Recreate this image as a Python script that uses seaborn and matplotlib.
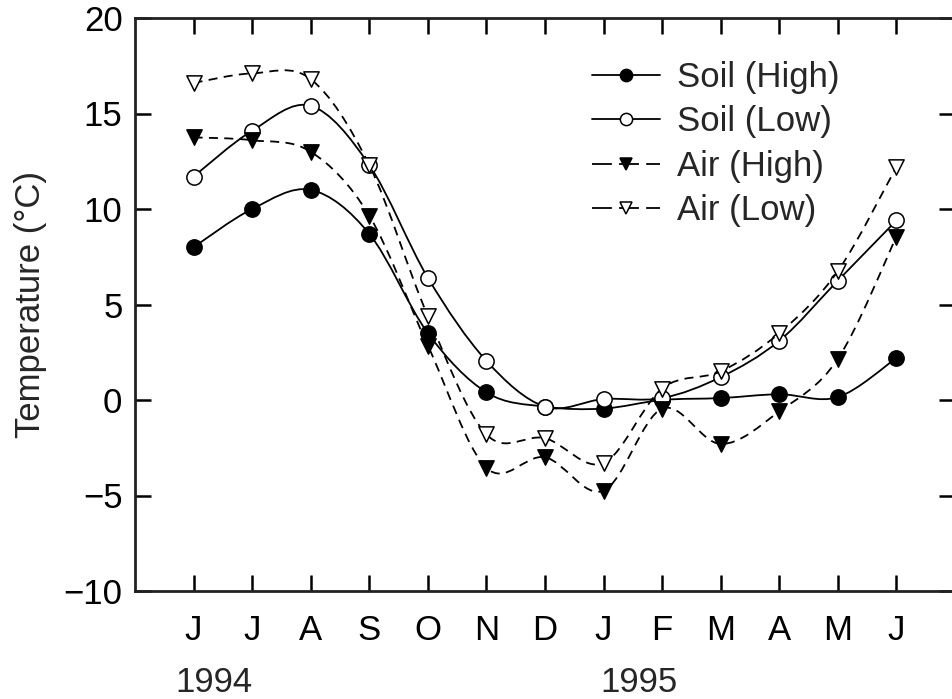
import numpy as np
import pandas as pd
import matplotlib
matplotlib.use("Agg")
import matplotlib.pyplot as plt
import matplotlib.transforms as mtransforms
from matplotlib.path import Path
from matplotlib.patches import PathPatch
from matplotlib.lines import Line2D
import seaborn as sns

# Monthly mean temperatures, June 1994 - June 1995
months = ["J", "J", "A", "S", "O", "N", "D", "J", "F", "M", "A", "M", "J"]
soil_high = [8.0, 10.0, 11.0, 8.7, 3.5, 0.4, -0.35, -0.45, 0.0, 0.1, 0.3, 0.15, 2.2]
soil_low = [11.7, 14.1, 15.4, 12.3, 6.4, 2.05, -0.35, 0.05, 0.1, 1.2, 3.1, 6.25, 9.4]
air_high = [13.75, 13.6, 13.0, 9.65, 2.85, -3.55, -3.0, -4.75, -0.45, -2.3, -0.6, 2.15, 8.55]
air_low = [16.6, 17.1, 16.8, 12.3, 4.4, -1.8, -2.0, -3.3, 0.6, 1.5, 3.5, 6.75, 12.2]
year_labels = ["1994", "1995"]
year_pos = [0.34, 7.61]

series = {
    "Soil (High)": soil_high,
    "Soil (Low)": soil_low,
    "Air (High)": air_high,
    "Air (Low)": air_low,
}
styles = {
    "Soil (High)": dict(marker="o", fill="black", ls="-", leg_ls="-"),
    "Soil (Low)": dict(marker="o", fill="white", ls="-", leg_ls="-"),
    "Air (High)": dict(marker="v", fill="black", ls=(0, (5, 3.5)), leg_ls=(0, (11, 4))),
    "Air (Low)": dict(marker="v", fill="white", ls=(0, (5, 3.5)), leg_ls=(0, (11, 4))),
}
MS = 11

x = np.arange(len(months))
df = pd.DataFrame({"month": np.tile(x, 4),
                   "temp": np.concatenate([series[k] for k in series]),
                   "series": np.repeat(list(series.keys()), len(months))})

FS = 25
sns.set_style("ticks")
plt.rcParams["font.family"] = ["Liberation Sans", "DejaVu Sans"]
plt.rcParams["font.size"] = FS

fig = plt.figure(figsize=(9.53, 6.99), dpi=100)
ax = fig.add_axes([135 / 953, 1 - 591 / 699, 820 / 953, 573 / 699])


def smooth_path(xs, ys):
    """Catmull-Rom curve through the points, expressed as cubic Bezier segments."""
    pts = np.column_stack([xs, ys]).astype(float)
    ext = np.vstack([pts[0], pts, pts[-1]])
    verts = [pts[0]]
    codes = [Path.MOVETO]
    for i in range(1, len(ext) - 2):
        p0, p1, p2, p3 = ext[i - 1], ext[i], ext[i + 1], ext[i + 2]
        c1 = p1 + (p2 - p0) / 6.0
        c2 = p2 - (p3 - p1) / 6.0
        verts += [c1, c2, p2]
        codes += [Path.CURVE4] * 3
    return Path(verts, codes)


handles = []
for z, (name, vals) in enumerate(series.items()):
    st = styles[name]
    patch = PathPatch(smooth_path(x, vals), fill=False, edgecolor="black",
                      lw=1.3, linestyle=st["ls"], zorder=2 + 2 * z)
    ax.add_patch(patch)
    sub = df[df["series"] == name]
    sns.scatterplot(data=sub, x="month", y="temp", marker=st["marker"],
                    s=MS ** 2, color=st["fill"], edgecolor="black",
                    linewidth=1.1, ax=ax, zorder=3 + 2 * z, legend=False)
    handles.append(Line2D([], [], color="black", lw=1.3, linestyle=st["leg_ls"],
                          marker=st["marker"], markersize=8.8,
                          markerfacecolor=st["fill"], markeredgecolor="black",
                          markeredgewidth=1.1))

ax.set_xlim(-1, 13)
ax.set_ylim(-10, 20)
ax.set_xticks(x)
ax.set_xticklabels(months)
ax.set_yticks(np.arange(-10, 21, 5))
ax.set_yticklabels([f"{v}".replace("-", "\u2212") for v in range(-10, 21, 5)])
ax.set_xlabel("")
ax.set_ylabel("Temperature (\u00b0C)", fontsize=FS, labelpad=12)

ax.tick_params(axis="both", direction="in", length=11.5, width=1.8,
               top=True, right=True, labelsize=FS, colors="black")
ax.tick_params(axis="x", pad=16.5)
ax.tick_params(axis="y", pad=9)
for sp in ax.spines.values():
    sp.set_linewidth(2.0)
    sp.set_color("#222222")
    sp.set_visible(True)

trans = mtransforms.blended_transform_factory(ax.transData, ax.transAxes)
for lab, pos in zip(year_labels, year_pos):
    ax.text(pos, -0.159, lab, transform=trans, ha="center", va="center",
            fontsize=FS)

leg = ax.legend(handles, list(series.keys()), loc="upper left",
                bbox_to_anchor=(592 / 953, 1 - 61 / 699),
                bbox_transform=fig.transFigure, frameon=False,
                handlelength=1.96, handletextpad=0.49, labelspacing=0.33,
                borderpad=0, borderaxespad=0, fontsize=FS)

fig.savefig("out.png", dpi=100)
